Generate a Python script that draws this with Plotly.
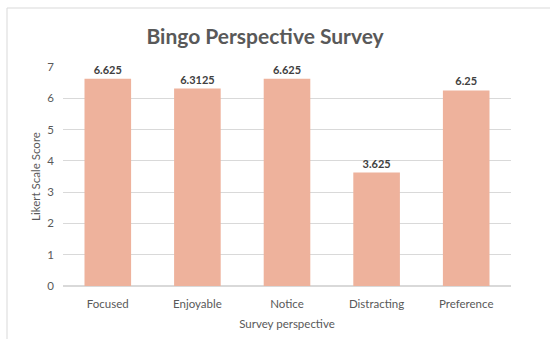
import plotly.graph_objects as go

categories = ["Focused", "Enjoyable", "Notice", "Distracting", "Preference"]
scores = [6.625, 6.3125, 6.625, 3.625, 6.25]
labels = ["6.625", "6.3125", "6.625", "3.625", "6.25"]
y_ticks = [0, 1, 2, 3, 4, 5, 6, 7]

FONT = "Lato"

fig = go.Figure(go.Bar(
    x=categories, y=scores, text=labels, textposition="outside",
    textfont=dict(family=FONT, size=11, color="#404040", weight="bold"),
    marker=dict(color="#EEB29C", line=dict(width=0)),
    width=0.52, cliponaxis=False,
))

fig.update_layout(
    width=550, height=339,
    margin=dict(l=63, r=39, t=67, b=53),
    paper_bgcolor="white", plot_bgcolor="white",
    font=dict(family=FONT, size=11.5, color="#595959"),
    title=dict(text="<b>Bingo Perspective Survey</b>", x=0.482, xanchor="center",
               y=1 - 37/339, yanchor="middle",
               font=dict(family=FONT, size=21, color="#595959")),
    showlegend=False,
    xaxis=dict(title=dict(text="Survey perspective", font=dict(size=11.5), standoff=11),
               showline=False, ticks="", tickfont=dict(size=11.5), ticklabelstandoff=9,
               automargin=False),
    yaxis=dict(title=dict(text="Likert Scale Score", font=dict(size=11.5), standoff=4),
               range=[0, 7], tickvals=y_ticks, showgrid=True, gridcolor="#D9D9D9",
               zeroline=True, zerolinecolor="#D9D9D9", ticks="", tickfont=dict(size=11.5),
               ticklabelstandoff=8, automargin=False),
    shapes=[dict(type="rect", xref="paper", yref="paper",
                 x0=-0.125, x1=1.2, y0=-0.5, y1=(286 - 8) / 219,
                 line=dict(color="#D9D9D9", width=1), fillcolor="rgba(0,0,0,0)", layer="below")],
)

fig.write_html("out.html")
